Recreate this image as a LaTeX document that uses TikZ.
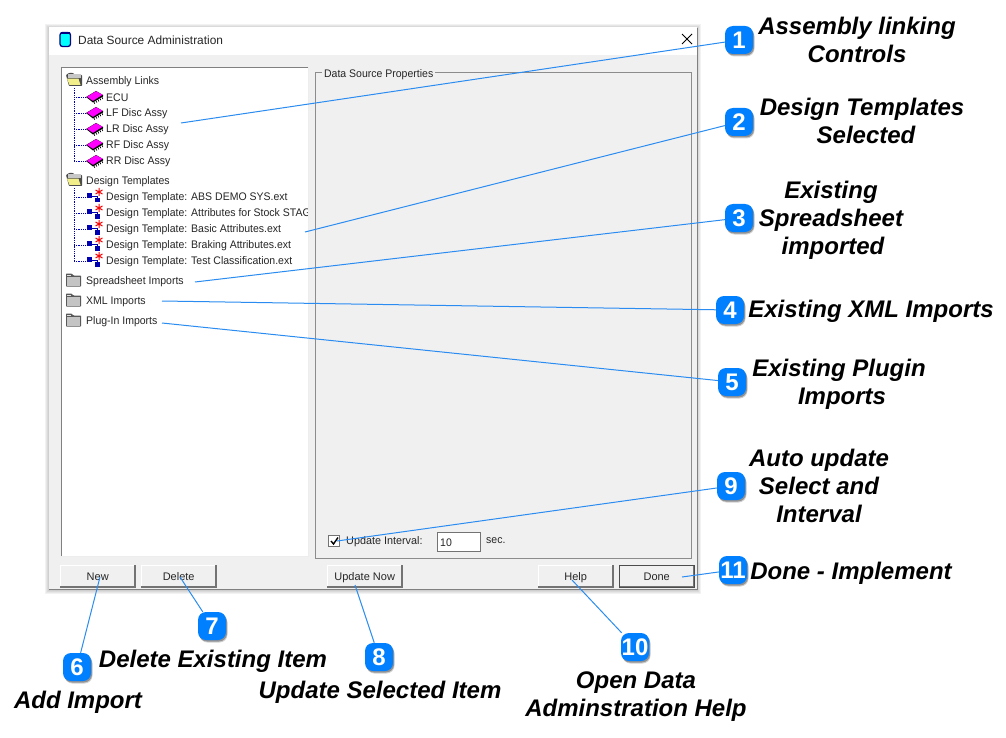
\documentclass[tikz,border=0pt]{standalone}
\usepackage{fontspec}
\setmainfont{Liberation Sans}
\usetikzlibrary{shadows,calc}
\definecolor{winbg}{HTML}{F0F0F0}
\definecolor{badgeblue}{HTML}{0080FF}
\definecolor{lineblue}{HTML}{2A8CF0}
\definecolor{treeblue}{HTML}{0000B0}
\definecolor{folderyel}{HTML}{F2EE8A}
\definecolor{chipmag}{HTML}{FF00FF}
\definecolor{iconcyan}{HTML}{00FFFF}
\definecolor{iconnavy}{HTML}{000080}
\definecolor{foldergrey}{HTML}{C4C4C4}
\tikzset{
  x=1pt,y=-1pt,
  ui/.style={font=\fontsize{11}{13}\selectfont,text=black!85,inner sep=0pt,anchor=west,xscale=.955,yshift=-1pt},
  callout/.style={font=\fontsize{24}{28}\bfseries\itshape\selectfont,text=black,inner sep=0pt,align=center,anchor=center},
  badge/.style={fill=badgeblue,rounded corners=8pt,minimum width=28pt,minimum height=28pt,inner sep=0pt,
    font=\fontsize{24}{24}\bfseries\selectfont,text=white,
    general shadow={fill=black,shadow xshift=1.5pt,shadow yshift=-2.5pt,opacity=.18,scale=1.06},
    general shadow={fill=black,shadow xshift=1pt,shadow yshift=-1.5pt,opacity=.3}},
  leader/.style={draw=lineblue,line width=1pt},
  btn/.style={fill=winbg,minimum width=75pt,minimum height=22pt,inner sep=0pt,text height=9.5pt,text depth=0pt,
    font=\fontsize{11}{13}\selectfont,text=black!85},
  treeline/.style={draw=treeblue,densely dotted,line width=.8pt},
  pics/closedfolder/.style={code={
    \fill[black!65,rounded corners=.7pt] (-7.5,-6.5) -- (-2,-6.5) -- (0,-4.5) -- (7.5,-4.5) -- (7.5,6.5) -- (-7.5,6.5) -- cycle;
    \fill[foldergrey] (-6.5,-3) rectangle (6.5,5.5);
    \fill[black!12] (-6.5,-5.5) rectangle (-2.5,-4);
  }},
  pics/openfolder/.style={code={
    \fill[black!70,rounded corners=.7pt] (-8,-4.5) -- (-5,-6.5) -- (-1,-6.5) -- (1,-4.5) -- (8,-4.5) -- (8,6.5) -- (-5,6.5) -- cycle;
    \fill[black!22] (-6,-5) rectangle (6.5,-1.5);
    \fill[folderyel] (-7,-.8) -- (4.5,-.8) -- (6.5,5.5) -- (-4.5,5.5) -- cycle;
  }},
  pics/chip/.style={code={
    \fill[black] (0,0) -- (7,5.5) -- (17,-.5) -- (17,-2) -- (10,-6) -- cycle;
    \foreach \i in {0,1,2,3,4}{\draw[black,line width=.7pt] (8+2*\i,5-1.2*\i) -- ++(.8,1.8);}
    \fill[chipmag] (.8,-.2) -- (10,-5.8) -- (16.5,-2.2) -- (7,3.8) -- cycle;
  }},
  pics/template/.style={code={
    \fill[treeblue] (0,-4) rectangle (5,1);
    \fill[treeblue] (8,1) rectangle (13,5.5);
    \draw[treeblue,line width=.9pt] (4,-1) -- (10,-1) -- (10,3);
    \draw[red,line width=1pt] (12,-9) -- (12,-1) (8.5,-7) -- (15.5,-3) (8.5,-3) -- (15.5,-7);
  }}
}
\begin{document}
\begin{tikzpicture}
\useasboundingbox (0,0) rectangle (1006,738);
% window with a soft shadow
\foreach \e in {4,3,2,1}{\fill[black,opacity=.05] (49-\e,27-\e+1) rectangle (697+\e,589+\e+1);}
\node[fill=winbg,minimum width=648pt,minimum height=562pt,inner sep=0pt,anchor=north west] (win) at (49,27) {};
\fill[white] (49,27) rectangle (697,55);
\draw[black!50,line width=.9pt] (697,28) -- (697,589) -- (49,589);
% title
\node[anchor=west,inner sep=0pt,font=\fontsize{11.9}{13}\selectfont,text=black!85,yshift=-.5pt] (title) at (78,40) {Data Source Administration};
\fill[iconcyan,draw=iconnavy,line width=1.3pt,rounded corners=2.5pt] (60,32.5) rectangle (70.5,46.5);
\fill[iconnavy] (60.5,32) rectangle (70,34.5);
\draw[black,line width=.9pt] (682,34) -- (692,44) (692,34) -- (682,44);
% tree panel
\node[fill=white,minimum width=247pt,minimum height=489pt,inner sep=0pt,anchor=north west] (tree) at (61,67) {};
\draw[black!50,line width=1.6pt] (61.5,556) -- (61.5,67.5) -- (308,67.5);
\draw[black!7,line width=1pt] (61.5,556.5) -- (308,556.5) -- (308,67.5);
% group box
\node[draw=black!45,line width=.8pt,minimum width=376pt,minimum height=486pt,inner sep=0pt,anchor=north west] (group) at (315,72) {};
\node[anchor=west,fill=winbg,inner sep=2pt,font=\fontsize{11}{13}\selectfont,text=black!85,xscale=.955,yshift=-1.5pt] (grouplabel) at (322,73) {Data Source Properties};
% tree lines
\foreach \a/\b in {88/161,188/261}{\draw[treeline] (74,\a) -- (74,\b);}
\foreach \y in {97,113,129,145,161,197,213,229,245,261}{\draw[treeline] (74,\y) -- (87,\y);}
% tree icons
\pic at (74,79.5) {openfolder};
\pic at (74,179.5) {openfolder};
\pic at (73.5,280) {closedfolder};
\pic at (73.5,300) {closedfolder};
\pic at (73.5,320) {closedfolder};
\foreach \y in {97,113,129,145,161}{\pic at (86,\y) {chip};}
\foreach \y in {197,213,229,245,261}{\pic at (87,\y) {template};}
% tree text
\node[ui] (t1) at (86,81) {Assembly Links};
\node[ui] (t2) at (106,97) {ECU};
\node[ui] (t3) at (106,113) {LF Disc Assy};
\node[ui] (t4) at (106,129) {LR Disc Assy};
\node[ui] (t5) at (106,145) {RF Disc Assy};
\node[ui] (t6) at (106,161) {RR Disc Assy};
\node[ui] (t7) at (86,181) {Design Templates};
\node[ui] (t8) at (106,197) {Design Template: ABS DEMO SYS.ext};
\begin{scope}
\clip (100,203) rectangle (307,223);
\node[ui] (t9) at (106,213) {Design Template: Attributes for Stock STAGES};
\end{scope}
\node[ui] (t10) at (106,229) {Design Template: Basic Attributes.ext};
\node[ui] (t11) at (106,245) {Design Template: Braking Attributes.ext};
\node[ui] (t12) at (106,261) {Design Template: Test Classification.ext};
\node[ui] (t13) at (86,281) {Spreadsheet Imports};
\node[ui] (t14) at (86,301) {XML Imports};
\node[ui] (t15) at (86,321) {Plug-In Imports};
% update interval
\node[draw=black!55,fill=white,line width=.9pt,minimum width=10.5pt,minimum height=10.5pt,inner sep=0pt] (check) at (334,541) {};
\draw[black,line width=1.4pt] (331,541) -- (333.5,544) -- (338,537.5);
\node[ui,xscale=1.03] (interval) at (346,541) {Update Interval:};
\node[draw=black!55,fill=white,line width=1pt,minimum width=43pt,minimum height=19pt,inner sep=0pt] (input) at (458.5,542) {};
\node[ui] (val) at (440,542) {10};
\node[ui] (sec) at (486,540) {sec.};
% buttons
\foreach \n/\x/\t in {bnew/60/New,bdel/141/Delete,bupd/327/Update Now,bhelp/538/Help,bdone/619/Done}{
  \node[btn,anchor=north west] (\n) at (\x,565) {\t};
  \draw[white,line width=1pt] (\x,587) -- (\x,565.5) -- (\x+75,565.5);
  \draw[black!55,line width=1.4pt] (\x,587) -- (\x+75,587) -- (\x+75,565);
}
\draw[black!70,line width=1pt] (619,565) rectangle (694,587.5);
% badges
\node[badge] (b1) at (739,40) {1};
\node[badge] (b2) at (739,122) {2};
\node[badge] (b3) at (739,218) {3};
\node[badge] (b4) at (730,310) {4};
\node[badge] (b5) at (732,382) {5};
\node[badge] (b6) at (77,667) {6};
\node[badge] (b7) at (212,626) {7};
\node[badge] (b8) at (379,657) {8};
\node[badge] (b9) at (731,486) {9};
\node[badge] (b10) at (635,647) {10};
\node[badge] (b11) at (733,570) {11};
% leader ends
\coordinate (e1) at (181,123);
\coordinate (e2) at (305,232);
\coordinate (e3) at (195,282);
\coordinate (e4) at (162,301);
\coordinate (e5) at (162,323);
\coordinate (e6) at (100,577);
\coordinate (e7) at (180,577);
\coordinate (e8) at (355,585);
\coordinate (e9) at (337,541);
\coordinate (e10) at (572,580);
\coordinate (e11) at (682,577);
\foreach \i in {1,...,11}{\draw[leader] (b\i) -- (e\i);}
% callouts
\node[callout] (c1) at (857,40) {Assembly linking\\Controls};
\node[callout] (c2) at (862,121) {Design Templates\\\hspace*{8pt}Selected};
\node[callout] (c3) at (831,220) {Existing\\Spreadsheet\\\hspace*{4pt}imported};
\node[callout] (c4) at (871,311) {Existing XML Imports};
\node[callout] (c5) at (839,384) {Existing Plugin\\\hspace*{6pt}Imports};
\node[callout] (c6) at (78,702) {Add Import};
\node[callout] (c7) at (213,661) {Delete Existing Item};
\node[callout] (c8) at (380,692) {Update Selected Item};
\node[callout] (c9) at (819,486) {Auto update\\Select and\\Interval};
\node[callout] (c10) at (636,697) {Open Data\\Adminstration Help};
\node[callout] (c11) at (851,573) {Done - Implement};
\end{tikzpicture}
\end{document}
